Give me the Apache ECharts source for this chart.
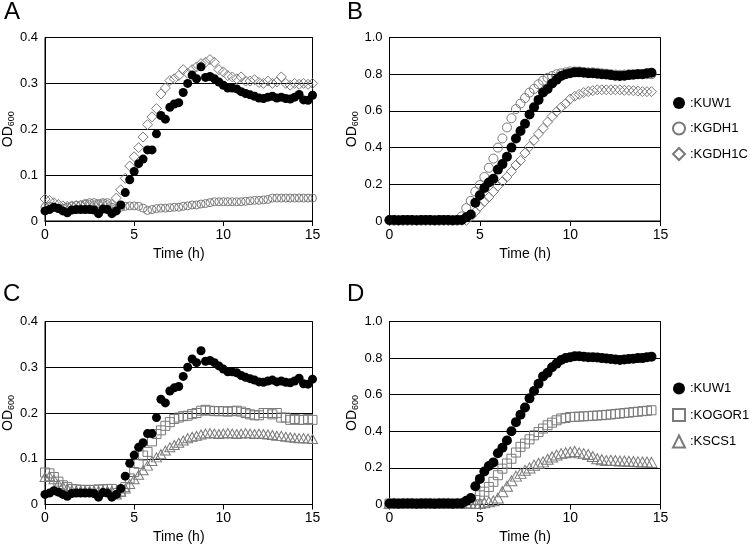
<!DOCTYPE html>
<html>
<head>
<meta charset="utf-8">
<script src="https://cdn.jsdelivr.net/npm/echarts@6/dist/echarts.min.js"></script>
<style>
  html, body { margin: 0; padding: 0; background: #fff; }
  #main { width: 750px; height: 547px; }
</style>
</head>
<body>
<div id="main"></div>
<script>
// sampling times (h)
var time15 = [0, 0.25, 0.5, 0.75, 1, 1.25, 1.5, 1.75, 2, 2.25, 2.5, 2.75, 3, 3.25, 3.5, 3.75,
  4, 4.25, 4.5, 4.75, 5, 5.25, 5.5, 5.75, 6, 6.25, 6.5, 6.75, 7, 7.25, 7.5, 7.75,
  8, 8.25, 8.5, 8.75, 9, 9.25, 9.5, 9.75, 10, 10.25, 10.5, 10.75, 11, 11.25, 11.5, 11.75,
  12, 12.25, 12.5, 12.75, 13, 13.25, 13.5, 13.75, 14, 14.25, 14.5, 14.75, 15];
var time145 = time15.slice(0, 59);

// panel A / C (low OD scale)
var kuw1A = [0.022, 0.025, 0.030, 0.027, 0.022, 0.018, 0.024, 0.025, 0.025, 0.025,
  0.025, 0.024, 0.016, 0.026, 0.025, 0.016, 0.022, 0.035, 0.062, 0.090,
  0.108, 0.125, 0.135, 0.155, 0.155, 0.190, 0.230, 0.222, 0.248, 0.255,
  0.258, 0.280, 0.300, 0.318, 0.310, 0.336, 0.313, 0.315, 0.310, 0.303,
  0.296, 0.290, 0.290, 0.288, 0.282, 0.278, 0.275, 0.272, 0.268, 0.267,
  0.270, 0.272, 0.268, 0.270, 0.267, 0.266, 0.270, 0.276, 0.264, 0.263, 0.274];
var kgdh1A = [0.030, 0.032, 0.030, 0.028, 0.028, 0.030, 0.032, 0.034, 0.035, 0.038,
  0.040, 0.040, 0.038, 0.040, 0.040, 0.030, 0.028, 0.030, 0.032, 0.033,
  0.033, 0.032, 0.028, 0.023, 0.025, 0.027, 0.028, 0.028, 0.029, 0.030,
  0.030, 0.032, 0.033, 0.035, 0.035, 0.037, 0.038, 0.040, 0.042, 0.042,
  0.042, 0.042, 0.042, 0.042, 0.042, 0.043, 0.044, 0.045, 0.045, 0.046,
  0.047, 0.050, 0.050, 0.050, 0.050, 0.050, 0.050, 0.050, 0.050, 0.050, 0.050];
var kgdh1cA = [0.048, 0.045, 0.040, 0.036, 0.033, 0.032, 0.033, 0.034, 0.034, 0.035,
  0.035, 0.034, 0.035, 0.036, 0.035, 0.036, 0.050, 0.068, 0.093, 0.120,
  0.140, 0.160, 0.183, 0.210, 0.227, 0.245, 0.277, 0.290, 0.306, 0.310,
  0.317, 0.330, 0.322, 0.330, 0.336, 0.343, 0.346, 0.352, 0.346, 0.330,
  0.325, 0.317, 0.314, 0.310, 0.314, 0.305, 0.305, 0.308, 0.302, 0.300,
  0.305, 0.300, 0.303, 0.314, 0.300, 0.296, 0.300, 0.298, 0.300, 0.298, 0.300];
var kogor1C = [0.070, 0.068, 0.060, 0.050, 0.042, 0.038, 0.034, 0.033, 0.032, 0.032,
  0.032, 0.032, 0.033, 0.033, 0.034, 0.034, 0.025, 0.028, 0.038, 0.057,
  0.071, 0.089, 0.107, 0.115, 0.138, 0.154, 0.162, 0.172, 0.180, 0.187,
  0.190, 0.193, 0.194, 0.198, 0.200, 0.205, 0.207, 0.205, 0.204, 0.204,
  0.204, 0.203, 0.204, 0.205, 0.203, 0.200, 0.197, 0.195, 0.195, 0.200,
  0.200, 0.197, 0.200, 0.190, 0.190, 0.185, 0.187, 0.185, 0.185, 0.187, 0.185];
var kscs1C = [0.060, 0.062, 0.055, 0.045, 0.040, 0.035, 0.031, 0.030, 0.030, 0.030,
  0.030, 0.030, 0.030, 0.030, 0.030, 0.030, 0.022, 0.028, 0.035, 0.045,
  0.055, 0.065, 0.075, 0.085, 0.095, 0.103, 0.110, 0.118, 0.125, 0.130,
  0.135, 0.140, 0.145, 0.148, 0.150, 0.153, 0.155, 0.156, 0.155, 0.154,
  0.155, 0.156, 0.155, 0.154, 0.155, 0.156, 0.155, 0.154, 0.155, 0.154,
  0.153, 0.152, 0.150, 0.150, 0.148, 0.147, 0.146, 0.145, 0.145, 0.144, 0.143];

// panel B / D (high OD scale, to 14.5 h)
var kuw1B = [0.005, 0.005, 0.004, 0.005, 0.005, 0.005, 0.004, 0.005, 0.005, 0.005,
  0.004, 0.005, 0.005, 0.005, 0.004, 0.005, 0.006, 0.020, 0.035, 0.100,
  0.140, 0.180, 0.210, 0.230, 0.280, 0.310, 0.350, 0.400, 0.450, 0.490,
  0.530, 0.580, 0.620, 0.660, 0.700, 0.720, 0.750, 0.770, 0.790, 0.800,
  0.805, 0.810, 0.810, 0.808, 0.805, 0.805, 0.803, 0.800, 0.798, 0.795,
  0.792, 0.790, 0.792, 0.795, 0.797, 0.800, 0.800, 0.805, 0.808];
var kgdh1B = [0.003, 0.003, 0.003, 0.003, 0.003, 0.003, 0.003, 0.003, 0.003, 0.003,
  0.003, 0.003, 0.003, 0.003, 0.003, 0.003, 0.025, 0.070, 0.110, 0.160,
  0.196, 0.240, 0.290, 0.340, 0.400, 0.450, 0.510, 0.560, 0.610, 0.640,
  0.670, 0.700, 0.720, 0.745, 0.765, 0.780, 0.790, 0.800, 0.805, 0.810,
  0.815, 0.815, 0.815, 0.812, 0.810, 0.810, 0.808, 0.805, 0.803, 0.800,
  0.798, 0.797, 0.798, 0.800, 0.800, 0.802, 0.800, 0.800, 0.800];
var kgdh1cB = [0.003, 0.003, 0.003, 0.003, 0.003, 0.003, 0.003, 0.003, 0.003, 0.003,
  0.003, 0.003, 0.003, 0.003, 0.003, 0.003, 0.003, 0.003, 0.024, 0.050,
  0.080, 0.105, 0.130, 0.160, 0.190, 0.215, 0.240, 0.270, 0.305, 0.330,
  0.370, 0.405, 0.440, 0.475, 0.505, 0.540, 0.570, 0.596, 0.620, 0.640,
  0.665, 0.680, 0.690, 0.700, 0.705, 0.710, 0.715, 0.715, 0.715, 0.715,
  0.715, 0.715, 0.712, 0.712, 0.710, 0.708, 0.705, 0.705, 0.705];
var kogor1D = [0.005, 0.005, 0.005, 0.005, 0.005, 0.005, 0.005, 0.005, 0.005, 0.005,
  0.005, 0.005, 0.005, 0.005, 0.005, 0.005, 0.005, 0.005, 0.005, 0.024,
  0.050, 0.070, 0.096, 0.124, 0.160, 0.196, 0.224, 0.250, 0.284, 0.315,
  0.333, 0.356, 0.378, 0.396, 0.415, 0.433, 0.447, 0.460, 0.470, 0.473,
  0.478, 0.479, 0.480, 0.482, 0.483, 0.485, 0.486, 0.488, 0.490, 0.492,
  0.495, 0.497, 0.500, 0.502, 0.505, 0.507, 0.510, 0.512, 0.515];
var kscs1D = [0.005, 0.005, 0.005, 0.005, 0.005, 0.005, 0.005, 0.005, 0.005, 0.005,
  0.005, 0.005, 0.005, 0.005, 0.005, 0.005, 0.005, 0.005, 0.005, 0.005,
  0.005, 0.010, 0.015, 0.020, 0.035, 0.070, 0.100, 0.130, 0.155, 0.170,
  0.187, 0.200, 0.215, 0.225, 0.233, 0.247, 0.260, 0.270, 0.278, 0.283,
  0.287, 0.290, 0.282, 0.278, 0.273, 0.262, 0.250, 0.245, 0.240, 0.242,
  0.240, 0.238, 0.238, 0.236, 0.235, 0.233, 0.232, 0.232, 0.230];

var xTicks = [0, 5, 10, 15];
var panelLabels = ['A', 'B', 'C', 'D'];

var FONT = '"Liberation Sans", Arial, sans-serif';
var GRAY = '#7a7a7a';

var chart = echarts.init(document.getElementById('main'), null, { renderer: 'canvas' });

function pts(t, v) {
  return v.map(function (y, i) { return [t[i], y]; });
}

var grids = [
  { left: 41.5, top: 37.5, width: 271, height: 183.5 },
  { left: 389.5, top: 37.5, width: 271, height: 183.5 },
  { left: 41.5, top: 321.5, width: 271, height: 183 },
  { left: 389.5, top: 321.5, width: 271, height: 183 }
];
grids.forEach(function (g) { g.show = true; g.borderColor = '#000'; g.borderWidth = 1; });

var xAxes = grids.map(function (g, i) {
  return {
    type: 'value', gridIndex: i, min: xTicks[0], max: xTicks[3], interval: 5,
    name: 'Time (h)', nameLocation: 'middle', nameGap: 26,
    nameTextStyle: { fontSize: 14, color: '#000', fontFamily: FONT },
    axisLine: { lineStyle: { color: '#000', width: 1 } },
    axisTick: { show: true, inside: false, length: 5, lineStyle: { color: '#000' } },
    axisLabel: { fontSize: 14, color: '#000', margin: 7, fontFamily: FONT },
    splitLine: { show: false }
  };
});

var yAxes = grids.map(function (g, i) {
  var big = (i === 1 || i === 3);
  return {
    type: 'value', gridIndex: i, min: 0, max: big ? 1.0 : 0.4, interval: big ? 0.2 : 0.1,
    name: 'OD{s|600}', nameLocation: 'middle', nameRotate: 90, nameGap: 29,
    nameTextStyle: {
      fontSize: 14, color: '#000', fontFamily: FONT,
      rich: { s: { fontSize: 9, color: '#000', fontFamily: FONT, padding: [7, 0, 0, 0] } }
    },
    axisLine: { show: true, lineStyle: { color: '#000', width: 1 } },
    axisTick: { show: false },
    axisLabel: {
      fontSize: 13, color: '#000', margin: 7, fontFamily: FONT,
      formatter: function (v) { return v === 0 ? '0' : v.toFixed(1); }
    },
    splitLine: { show: true, lineStyle: { color: '#000', width: 1 } }
  };
});

function openSeries(name, idx, symbol, size, t, v) {
  return {
    name: name, type: 'scatter', xAxisIndex: idx, yAxisIndex: idx,
    symbol: symbol, symbolSize: size, data: pts(t, v),
    itemStyle: { color: 'rgba(255,255,255,0)', borderColor: GRAY, borderWidth: 1, opacity: 1 },
    emphasis: { disabled: true }
  };
}
function blackSeries(idx, size, t, v) {
  return {
    name: 'KUW1', type: 'scatter', xAxisIndex: idx, yAxisIndex: idx,
    symbol: 'circle', symbolSize: size, data: pts(t, v),
    itemStyle: { color: '#000', opacity: 1 }, z: 3,
    emphasis: { disabled: true }
  };
}

var series = [
  openSeries('KGDH1', 0, 'circle', 8, time15, kgdh1A),
  openSeries('KGDH1C', 0, 'diamond', 10, time15, kgdh1cA),
  blackSeries(0, 9, time15, kuw1A),
  openSeries('KGDH1', 1, 'circle', 9, time145, kgdh1B),
  openSeries('KGDH1C', 1, 'diamond', 10, time145, kgdh1cB),
  blackSeries(1, 10, time145, kuw1B),
  openSeries('KOGOR1', 2, 'rect', 9, time15, kogor1C),
  openSeries('KSCS1', 2, 'triangle', [10, 9], time15, kscs1C),
  blackSeries(2, 9, time15, kuw1A),
  openSeries('KOGOR1', 3, 'rect', 9, time145, kogor1D),
  openSeries('KSCS1', 3, 'triangle', [11, 10], time145, kscs1D),
  blackSeries(3, 10, time145, kuw1B)
];

function legendAt(names, top, gap) {
  return {
    data: names, orient: 'vertical', left: 672, top: top, padding: 0,
    itemWidth: 12, itemHeight: 12, itemGap: gap, selectedMode: false,
    formatter: ':{name}',
    textStyle: { fontSize: 13, color: '#000', fontFamily: FONT, lineHeight: 14 }
  };
}

var letterPos = [[4, 12], [347, 12], [3, 294], [347, 294]];
var graphic = panelLabels.map(function (s, i) {
  return {
    type: 'text', left: letterPos[i][0], top: letterPos[i][1] - 12,
    style: { text: s, fontSize: 24, fill: '#000', fontFamily: FONT }
  };
});

chart.setOption({
  animation: false,
  backgroundColor: '#fff',
  grid: grids,
  xAxis: xAxes,
  yAxis: yAxes,
  legend: [
    legendAt(['KUW1', 'KGDH1', 'KGDH1C'], 96, 11.5),
    legendAt(['KUW1', 'KOGOR1', 'KSCS1'], 381.5, 12.5)
  ],
  graphic: graphic,
  series: series
});
</script>
</body>
</html>
